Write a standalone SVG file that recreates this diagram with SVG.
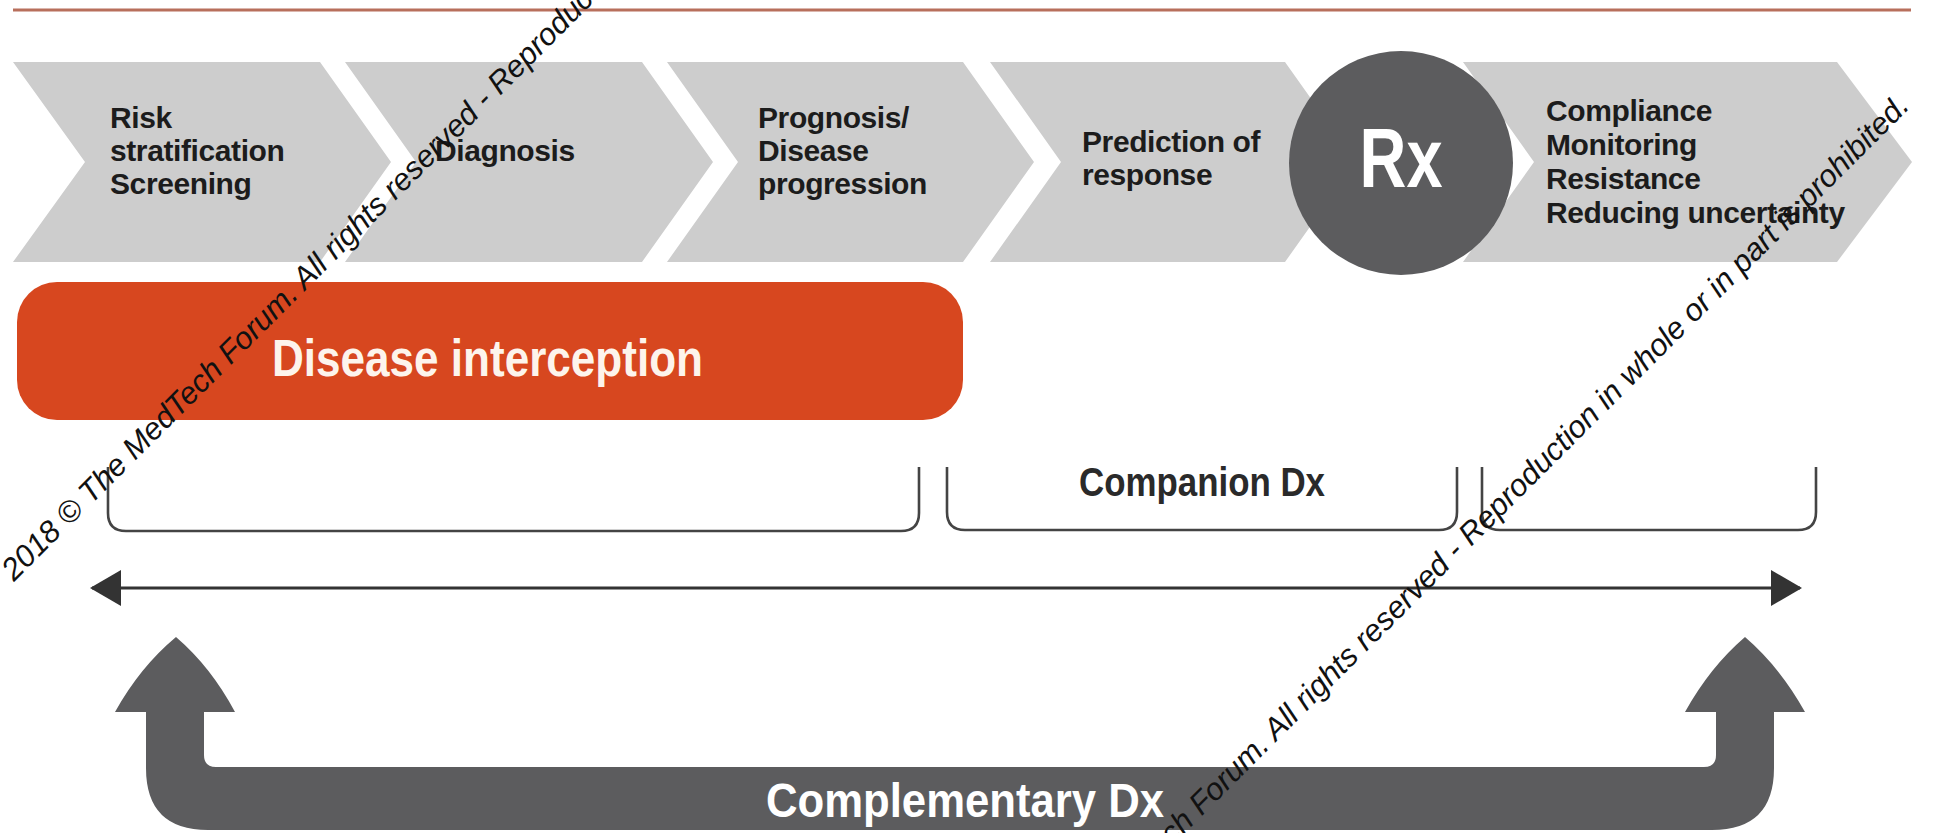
<svg xmlns="http://www.w3.org/2000/svg" width="1939" height="833" viewBox="0 0 1939 833">
<style>
.chev{fill:#cdcdcd}
.lbl{font-family:"Liberation Sans",Arial,sans-serif;font-weight:bold;font-size:30px;letter-spacing:-0.4px;fill:#1c1c1c}
.big{font-family:"Liberation Sans",Arial,sans-serif;font-weight:bold}
.brk{fill:none;stroke:#444444;stroke-width:2.6}
.dark{fill:#5c5c5e}
.wm{font-family:"Liberation Sans",Arial,sans-serif;font-style:italic;font-size:31px;fill:#111}
</style>
<defs>
<marker id="ah" viewBox="0 0 31 36" refX="29" refY="18" markerWidth="31" markerHeight="36" markerUnits="userSpaceOnUse" orient="auto-start-reverse">
<path d="M0,0 L31,18 L0,36 Z" fill="#333333"/>
</marker>
</defs>
<rect width="1939" height="833" fill="#ffffff"/>
<line x1="13" y1="10" x2="1911" y2="10" stroke="#b86f5c" stroke-width="3"/>

<g id="step1">
<path class="chev" d="M13,62 L320,62 L391,162 L320,262 L13,262 L85,162 Z"/>
<text class="lbl" x="110" y="128">Risk</text>
<text class="lbl" x="110" y="161">stratification</text>
<text class="lbl" x="110" y="194">Screening</text>
</g>
<g id="step2">
<path class="chev" d="M345,62 L642,62 L713,162 L642,262 L345,262 L416,162 Z"/>
<text class="lbl" x="435" y="161">Diagnosis</text>
</g>
<g id="step3">
<path class="chev" d="M667,62 L963,62 L1034,162 L963,262 L667,262 L738,162 Z"/>
<text class="lbl" x="758" y="128">Prognosis/</text>
<text class="lbl" x="758" y="161">Disease</text>
<text class="lbl" x="758" y="194">progression</text>
</g>
<g id="step4">
<path class="chev" d="M990,62 L1285,62 L1356,162 L1285,262 L990,262 L1061,162 Z"/>
<text class="lbl" x="1082" y="152">Prediction of</text>
<text class="lbl" x="1082" y="185">response</text>
</g>
<g id="step5">
<path class="chev" d="M1463,62 L1837,62 L1912,162 L1837,262 L1463,262 L1534,162 Z"/>
<text class="lbl" x="1546" y="121">Compliance</text>
<text class="lbl" x="1546" y="155">Monitoring</text>
<text class="lbl" x="1546" y="189">Resistance</text>
<text class="lbl" x="1546" y="223">Reducing uncertainty</text>
</g>
<g id="rx">
<circle class="dark" cx="1401" cy="163" r="112"/>
<text class="big" x="1401" y="187" font-size="84" fill="#ffffff" text-anchor="middle" textLength="83" lengthAdjust="spacingAndGlyphs">Rx</text>
</g>
<g id="interception">
<rect x="17" y="282" width="946" height="138" rx="40" ry="40" fill="#d7471f"/>
<text class="big" x="272" y="376" font-size="52" fill="#fdf4ec" textLength="431" lengthAdjust="spacingAndGlyphs">Disease interception</text>
</g>
<g id="companion">
<text class="big" x="1079" y="496" font-size="40" fill="#2a2a2a" textLength="246" lengthAdjust="spacingAndGlyphs">Companion Dx</text>
</g>
<g id="connectors">
<path class="brk" d="M108,467 V513 Q108,531 126,531 H901 Q919,531 919,513 V467"/>
<path class="brk" d="M947,467 V512 Q947,530 965,530 H1439 Q1457,530 1457,512 V467"/>
<path class="brk" d="M1482,467 V512 Q1482,530 1500,530 H1798 Q1816,530 1816,512 V467"/>
<line x1="92" y1="588" x2="1800" y2="588" stroke="#333333" stroke-width="3" marker-start="url(#ah)" marker-end="url(#ah)"/>
<path class="dark" d="M176,637 Q140,667 115,712 L146,712 L146,768 Q146,830 208,830 L1712,830 Q1774,830 1774,768 L1774,712 L1805,712 Q1780,667 1745,637 Q1710,667 1685,712 L1716,712 L1716,755 Q1716,767 1704,767 L216,767 Q204,767 204,755 L204,712 L235,712 Q211,667 176,637 Z"/>
</g>
<g id="complementary">
<text class="big" x="766" y="817" font-size="48" fill="#ffffff" textLength="398" lengthAdjust="spacingAndGlyphs">Complementary Dx</text>
</g>
<g id="watermark">
<text class="wm" transform="translate(14,582) rotate(-45)">2018 © The MedTech Forum. All rights reserved - Reproduction in whole or in part is prohibited.</text>
<text class="wm" transform="translate(985,1033) rotate(-45)">2018 © The MedTech Forum. All rights reserved - Reproduction in whole or in part is prohibited.</text>
</g>
</svg>
